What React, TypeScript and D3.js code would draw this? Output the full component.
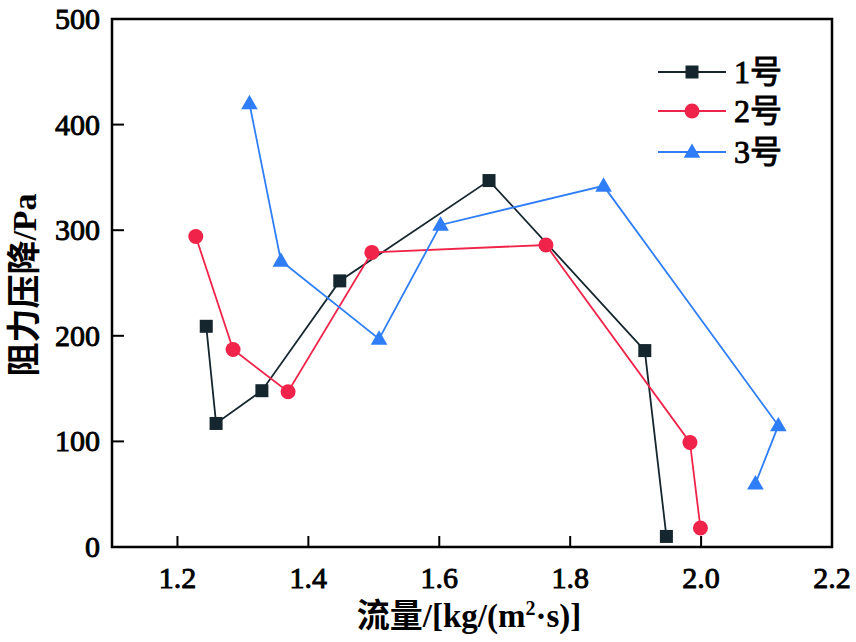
import React from "react";
import * as d3 from "d3";

const xTicks = [1.2, 1.4, 1.6, 1.8, 2.0, 2.2];
const yTicks = [0, 100, 200, 300, 400, 500];

const s1x = [1.244, 1.259, 1.329, 1.448, 1.676, 1.914, 1.947];
const s1y = [209, 117, 148, 252, 347, 186, 10];
const s2x = [1.228, 1.285, 1.369, 1.497, 1.763, 1.983, 1.999];
const s2y = [294, 187, 147, 279, 286, 99, 18];
const s3x = [1.31, 1.358, 1.508, 1.602, 1.851, 2.083, 2.118];
const s3y = [420, 271, 197, 305, 342, 60, 115];
const s3order = [0, 1, 2, 3, 4, 6, 5];

const seriesNames = ["1号", "2号", "3号"];
const colors = ["#15262f", "#f0244a", "#2f7ef7"];

const W = 856, H = 642;
const m = { left: 112, right: 832, top: 19, bottom: 547 };

const fontSerif = "'Liberation Serif', 'Times New Roman', 'Noto Sans CJK SC', serif";

function Marker({ kind, x, y, color }: { kind: number; x: number; y: number; color: string }) {
  if (kind === 0) return <rect x={x - 6.5} y={y - 6.5} width={13} height={13} fill={color} />;
  if (kind === 1) return <circle cx={x} cy={y} r={7.5} fill={color} />;
  const sym = d3.symbol().type(d3.symbolTriangle).size(120)();
  return <path d={sym || ""} transform={`translate(${x},${y + 1})`} fill={color} />;
}

export default function App() {
  const x = d3.scaleLinear().domain([1.1, 2.2]).range([m.left, m.right]);
  const y = d3.scaleLinear().domain([0, 500]).range([m.bottom, m.top]);
  const line = d3.line<[number, number]>().x(d => x(d[0])).y(d => y(d[1]));

  const series: [number, number][][] = [
    s1x.map((v, i) => [v, s1y[i]] as [number, number]),
    s2x.map((v, i) => [v, s2y[i]] as [number, number]),
    s3order.map(i => [s3x[i], s3y[i]] as [number, number]),
  ];

  const legendY = [72, 111, 152];
  const thick = { stroke: "#000", strokeWidth: 0.9 };

  return (
    <svg width={W} height={H} style={{ display: "block", position: "absolute", left: 0, top: 0 }}>
      <rect width={W} height={H} fill="#fff" />
      {series.map((pts, si) => (
        <g key={si}>
          <path d={line(pts) || ""} fill="none" stroke={colors[si]} strokeWidth={1.8} />
          {pts.map((p, i) => (
            <Marker key={i} kind={si} x={x(p[0])} y={y(p[1])} color={colors[si]} />
          ))}
        </g>
      ))}
      <rect x={m.left} y={m.top} width={m.right - m.left} height={m.bottom - m.top} fill="none" stroke="#000" strokeWidth={2.5} />
      {xTicks.map(t => (
        <g key={t}>
          <line x1={x(t)} x2={x(t)} y1={m.bottom} y2={m.bottom - 11} stroke="#000" strokeWidth={2} />
          <text x={x(t)} y={588} textAnchor="middle" fontFamily={fontSerif} fontSize={30} fill="#000" {...thick}>{t.toFixed(1)}</text>
        </g>
      ))}
      {yTicks.map(t => (
        <g key={t}>
          <line x1={m.left} x2={m.left + 12} y1={y(t)} y2={y(t)} stroke="#000" strokeWidth={2} />
          <text x={100} y={y(t) + 10} textAnchor="end" fontFamily={fontSerif} fontSize={30} fill="#000" {...thick}>{t}</text>
        </g>
      ))}
      <text x={469} y={627} textAnchor="middle" fontFamily={fontSerif} fontSize={33} fontWeight="bold" fill="#000">
        流量/[kg/(m<tspan dy={-12} fontSize={20}>2</tspan><tspan dy={12}>·s)]</tspan>
      </text>
      <text transform={`translate(36,${(m.top + m.bottom) / 2 + 2}) rotate(-90)`} textAnchor="middle" fontFamily={fontSerif} fontSize={34} fontWeight="bold" fill="#000">
        阻力压降/Pa
      </text>
      {seriesNames.map((n, i) => (
        <g key={n}>
          <line x1={658} x2={726} y1={legendY[i]} y2={legendY[i]} stroke={colors[i]} strokeWidth={1.8} />
          <Marker kind={i} x={692} y={legendY[i]} color={colors[i]} />
          <text x={734} y={legendY[i] + 11} fontFamily={fontSerif} fontSize={32} fill="#000" {...thick}>{n}</text>
        </g>
      ))}
    </svg>
  );
}
